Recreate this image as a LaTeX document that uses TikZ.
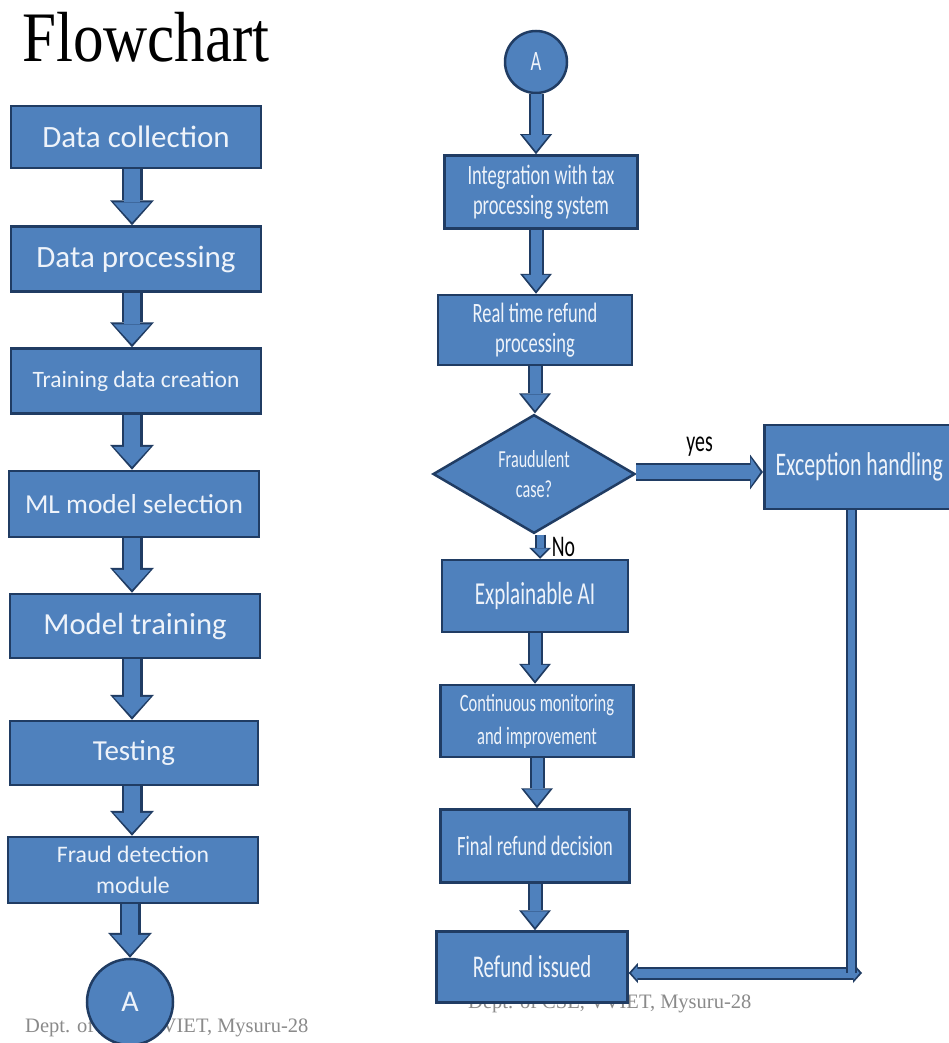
\documentclass[tikz,border=0pt]{standalone}
\usepackage{fontspec}
\setmainfont{Carlito}
\newfontfamily\slimfont[FakeStretch=0.66]{Carlito}
\newfontfamily\titlefont[FakeStretch=0.86]{Liberation Serif}
\newfontfamily\footfont{Liberation Serif}
\usetikzlibrary{positioning, shapes.geometric, arrows.meta}

\definecolor{boxblue}{HTML}{4F81BD}
\definecolor{boxline}{HTML}{203C63}
\definecolor{boxtext}{HTML}{EEF3FA}
\definecolor{footgray}{HTML}{8A8A8A}

\tikzset{
  stepbox/.style = {rectangle, draw=boxline, fill=boxblue, line width=2.5pt, text=boxtext, align=center, inner sep=2pt},
  leftbox/.style = {stepbox, minimum width=250pt, minimum height=65pt},
  rightbox/.style = {stepbox, minimum width=192pt, minimum height=72pt, font=\slimfont\fontsize{28}{30}\selectfont},
  connector/.style = {circle, draw=boxline, fill=boxblue, line width=2.5pt, text=boxtext, inner sep=0pt},
  footer/.style = {anchor=base west, inner sep=0pt, text=footgray, font=\footfont\fontsize{20.5}{22}\selectfont},
  bigarrow/.style = {draw=boxblue, line width=16pt, shorten >=3pt, -{Triangle[length=20pt, width=37pt, line width=0pt]},
    preaction={draw=boxline, line width=21pt, shorten >=0pt, -{Triangle[length=25pt, width=44pt, line width=0pt]}}},
  midarrow/.style = {draw=boxblue, line width=11pt, shorten >=3pt, -{Triangle[length=16pt, width=26pt, line width=0pt]},
    preaction={draw=boxline, line width=15pt, shorten >=0pt, -{Triangle[length=20pt, width=32pt, line width=0pt]}}},
  sidearrow/.style = {draw=boxblue, line width=14pt, shorten >=2.5pt, -{Triangle[length=10pt, width=29pt, line width=0pt]},
    preaction={draw=boxline, line width=18pt, shorten >=0pt, -{Triangle[length=13pt, width=35pt, line width=0pt]}}},
  thinarrow/.style = {draw=boxblue, line width=7pt, shorten >=2.5pt, -{Triangle[length=8pt, width=16pt, line width=0pt]},
    preaction={draw=boxline, line width=11pt, shorten >=0pt, -{Triangle[length=11pt, width=22pt, line width=0pt]}}},
  twowayarrow/.style = {draw=boxblue, line width=9pt, shorten >=2.5pt, shorten <=2.5pt,
    {Triangle[length=6pt, width=14pt, line width=0pt]}-{Triangle[length=6pt, width=14pt, line width=0pt]},
    preaction={draw=boxline, line width=13pt, shorten >=0pt, shorten <=0pt,
      {Triangle[length=9pt, width=20pt, line width=0pt]}-{Triangle[length=9pt, width=20pt, line width=0pt]}}},
  returnbar/.style = {draw=boxblue, line width=7pt, preaction={draw=boxline, line width=11pt}},
}

\begin{document}
\begin{tikzpicture}[x=1pt, y=-1pt]
\fill[white] (0,0) rectangle (948,1043);
\useasboundingbox (0,0) rectangle (948,1043);

\node[anchor=base west, inner sep=0pt, font=\titlefont\fontsize{71}{71}\selectfont] (title) at (22,62) {Flowchart};

% footers sit behind the shapes
\node[footer] (footleft) at (25,1032) {Dept. of CSE, VVIET, Mysuru-28};
\node[footer] (footright) at (468,1008) {Dept. of CSE, VVIET, Mysuru-28};

% left column
\node[leftbox, minimum height=62pt, font=\fontsize{31}{34}\selectfont] (collect) at (136,137) {Data collection};
\node[leftbox, font=\fontsize{31}{34}\selectfont] (process) at (136,259) {Data processing};
\node[leftbox, font=\fontsize{23.5}{26}\selectfont] (trainset) at (136,381) {Training data creation};
\node[leftbox, minimum height=66pt, font=\fontsize{27.4}{30}\selectfont] (mlselect) at (134,504) {ML model selection};
\node[leftbox, minimum height=64pt, font=\fontsize{30.6}{33}\selectfont] (training) at (135,626) {Model training};
\node[leftbox, minimum width=248pt, minimum height=64pt, font=\fontsize{29}{32}\selectfont] (testing) at (134,753) {Testing};
\node[leftbox, minimum height=66pt, font=\fontsize{23.7}{31}\selectfont] (frauddet) at (133,870) {Fraud detection\\module};
\node[connector, minimum size=86pt, font=\fontsize{30}{32}\selectfont] (linkout) at (130,1002) {A};

\draw[bigarrow] ([xshift=-4pt]collect.south) -- ([xshift=-4pt]collect.south |- process.north);
\draw[bigarrow] ([xshift=-4pt]process.south) -- ([xshift=-4pt]process.south |- trainset.north);
\draw[bigarrow] ([xshift=-4pt]trainset.south) -- ([xshift=-4pt]trainset.south |- mlselect.north);
\draw[bigarrow] ([xshift=-2pt]mlselect.south) -- ([xshift=-2pt]mlselect.south |- training.north);
\draw[bigarrow] ([xshift=-3pt]training.south) -- ([xshift=-3pt]training.south |- testing.north);
\draw[bigarrow] ([xshift=-2pt]testing.south) -- ([xshift=-2pt]testing.south |- frauddet.north);
\draw[bigarrow] ([xshift=-3pt]frauddet.south) -- ([xshift=-3pt]frauddet.south |- linkout.north);

% right column
\node[connector, minimum size=62pt, font=\slimfont\fontsize{28}{30}\selectfont] (linkin) at (536,62) {A};
\node[rightbox, minimum width=193pt, minimum height=73pt] (integrate) at (541,192) {Integration with tax\\processing system};
\node[rightbox, minimum width=194pt, minimum height=70pt] (realtime) at (535,330) {Real time refund\\processing};
\node[diamond, draw=boxline, fill=boxblue, line width=2.5pt, text=boxtext, align=center, inner sep=0pt,
  minimum width=202pt, minimum height=105pt, font=\slimfont\fontsize{24.5}{30}\selectfont] (fraudq) at (534,474) {Fraudulent\\case?};
\node[rightbox, anchor=west, minimum width=190pt, minimum height=84pt,
  font=\slimfont\fontsize{33}{36}\selectfont] (exception) at (763,467) {Exception handling};
\node[rightbox, minimum width=186pt, font=\slimfont\fontsize{32}{34}\selectfont] (explain) at (535,596) {Explainable AI};
\node[rightbox, minimum width=193pt, font=\slimfont\fontsize{25}{33}\selectfont] (monitor) at (537,721) {Continuous monitoring\\and improvement};
\node[rightbox, minimum width=189pt, minimum height=73pt] (decision) at (535,846) {Final refund decision};
\node[rightbox, minimum width=191pt, minimum height=71pt, font=\slimfont\fontsize{31.6}{34}\selectfont] (issued) at (532,967) {Refund issued};

\draw[midarrow] (linkin.south) -- (linkin.south |- integrate.north);
\draw[midarrow] ([xshift=-5pt]integrate.south) -- ([xshift=-5pt]integrate.south |- realtime.north);
\draw[midarrow] (realtime.south) -- (realtime.south |- fraudq.north);
\draw[sidearrow] ([yshift=2pt]fraudq.east) -- ([yshift=2pt]fraudq.east -| exception.west) node[midway, above=5pt, font=\slimfont\fontsize{30}{32}\selectfont] (yeslabel) {yes};
\draw[thinarrow] ([xshift=6pt]fraudq.south) -- ([xshift=6pt]fraudq.south |- explain.north) node[midway, right=5pt, font=\slimfont\fontsize{30}{32}\selectfont] (nolabel) {No};
\draw[midarrow] (explain.south) -- (explain.south |- monitor.north);
\draw[midarrow] (monitor.south) -- (monitor.south |- decision.north);
\draw[midarrow] (decision.south) -- (decision.south |- issued.north);

% way back from the exception box
\coordinate (backstart) at (862,973);
\coordinate (backcorner) at (851,973);
\draw[twowayarrow] (backstart) -- (issued.east |- backstart);
\draw[returnbar] (backcorner |- exception.south) -- (backcorner);
\end{tikzpicture}
\end{document}
